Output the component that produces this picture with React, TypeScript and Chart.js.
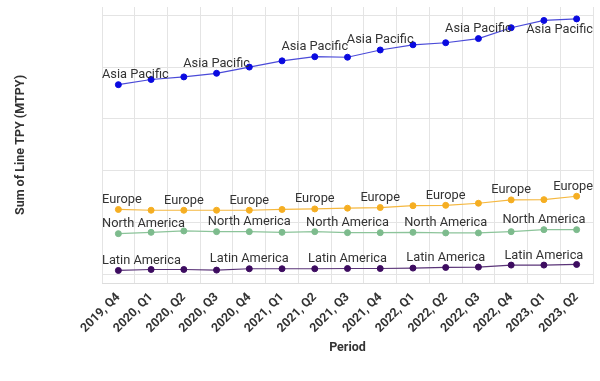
import React, { useEffect, useRef } from "react";
import { Chart, registerables } from "chart.js";

Chart.register(...registerables);

const periods = [
  "2019, Q4", "2020, Q1", "2020, Q2", "2020, Q3", "2020, Q4",
  "2021, Q1", "2021, Q2", "2021, Q3", "2021, Q4",
  "2022, Q1", "2022, Q2", "2022, Q3", "2022, Q4",
  "2023, Q1", "2023, Q2",
];

const asiaPacific = [366, 376, 381, 388, 400, 412, 420, 419, 433, 443, 447, 455, 476, 490, 493];
const europe = [125, 123.5, 123.5, 123.5, 123.5, 125, 126, 127.5, 128.7, 132.3, 133, 137, 143.5, 144, 150.5];
const northAmerica = [78.3, 80.8, 83.5, 82.2, 82.2, 80.8, 82.2, 80.2, 80.2, 80.8, 79.7, 79.7, 82.2, 86, 86];
const latinAmerica = [7.2, 9.1, 9.1, 7.9, 10.5, 10.5, 10.5, 11, 11, 11.8, 13, 13.8, 17.6, 17.6, 18.8];

const asiaLabelIdx = [0, 3, 6, 8, 11, 14];
const europeLabelIdx = [0, 2, 4, 6, 8, 10, 12, 14];
const northAmericaLabelIdx = [0, 4, 7, 10, 13];
const latinAmericaLabelIdx = [0, 4, 7, 10, 13];

const yTicks = [0, 100, 200, 300, 400, 500];

const labelFont = "12.8px Roboto";

const pointLabelPlugin = {
  id: "pointLabels",
  afterDatasetsDraw(chart: any) {
    const ctx = chart.ctx;
    const area = chart.chartArea;
    ctx.save();
    ctx.font = labelFont;
    ctx.fillStyle = "#333333";
    ctx.textAlign = "left";
    ctx.textBaseline = "alphabetic";
    chart.data.datasets.forEach((ds: any, di: number) => {
      const meta = chart.getDatasetMeta(di);
      (ds.labelIdx || []).forEach((i: number) => {
        const pt = meta.data[i];
        if (!pt) return;
        const text = ds.label;
        const w = ctx.measureText(text).width;
        let x = pt.x - w / 2;
        if (x < area.left) x = area.left;
        if (x + w > area.right) x = area.right - w;
        let y = pt.y - 6.5;
        if (y - 9 < area.top) y = pt.y + 14;
        ctx.fillText(text, x, y);
      });
    });
    ctx.restore();
  },
};

export default function App() {
  const ref = useRef<HTMLCanvasElement | null>(null);

  useEffect(() => {
    if (!ref.current) return;
    const mk = (label: string, data: number[], color: string, lineColor: string, labelIdx: number[]) => ({
      label,
      data,
      borderColor: lineColor,
      backgroundColor: color,
      pointBackgroundColor: color,
      pointBorderColor: color,
      pointRadius: 3,
      pointBorderWidth: 1,
      borderWidth: 1.2,
      tension: 0,
      labelIdx,
    });
    const chart = new Chart(ref.current, {
      type: "line",
      data: {
        labels: periods,
        datasets: [
          mk("Asia Pacific", asiaPacific, "#0a0ae0", "#4a4ad8", asiaLabelIdx),
          mk("Europe", europe, "#f5ae22", "#f5b840", europeLabelIdx),
          mk("North America", northAmerica, "#7dbb8d", "#8cc49a", northAmericaLabelIdx),
          mk("Latin America", latinAmerica, "#3d0c60", "#5a3478", latinAmericaLabelIdx),
        ] as any,
      },
      options: {
        responsive: false,
        animation: false,
        layout: { padding: { left: 0, right: 7, top: 7, bottom: 24 } },
        plugins: {
          legend: { display: false },
          tooltip: { enabled: false },
        },
        scales: {
          x: {
            offset: true,
            grid: { offset: true, color: "#e4e4e4", drawTicks: false },
            border: { display: true, color: "#dddddd" },
            ticks: {
              minRotation: 45,
              maxRotation: 45,
              autoSkip: false,
              padding: 7,
              color: "#333333",
              font: { family: "Roboto", size: 12.3, weight: "bold" },
            },
            title: {
              display: true,
              text: "Period",
              color: "#333333",
              font: { family: "Roboto", size: 12.5, weight: "bold" },
              padding: { top: 0, bottom: 2 },
            },
            afterFit: (scale: any) => {
              scale.height = 381 - 24 - 283;
            },
          },
          y: {
            min: -17,
            max: 516,
            afterBuildTicks: (scale: any) => {
              scale.ticks = yTicks.map((v) => ({ value: v }));
            },
            grid: { color: "#e4e4e4", drawTicks: false },
            border: { display: false },
            ticks: { display: false },
            title: {
              display: true,
              text: "Sum of Line TPY (MTPY)",
              color: "#333333",
              font: { family: "Roboto", size: 12.5, weight: "bold" },
              padding: { top: 13, bottom: 0 },
            },
            afterFit: (scale: any) => {
              scale.width = 102;
            },
          },
        },
      } as any,
      plugins: [pointLabelPlugin],
    });
    return () => chart.destroy();
  }, []);

  return (
    <div style={{ position: "absolute", left: 0, top: 0, width: 600, height: 381, background: "#fff" }}>
      <canvas ref={ref} width={600} height={381} style={{ display: "block" }} />
    </div>
  );
}
